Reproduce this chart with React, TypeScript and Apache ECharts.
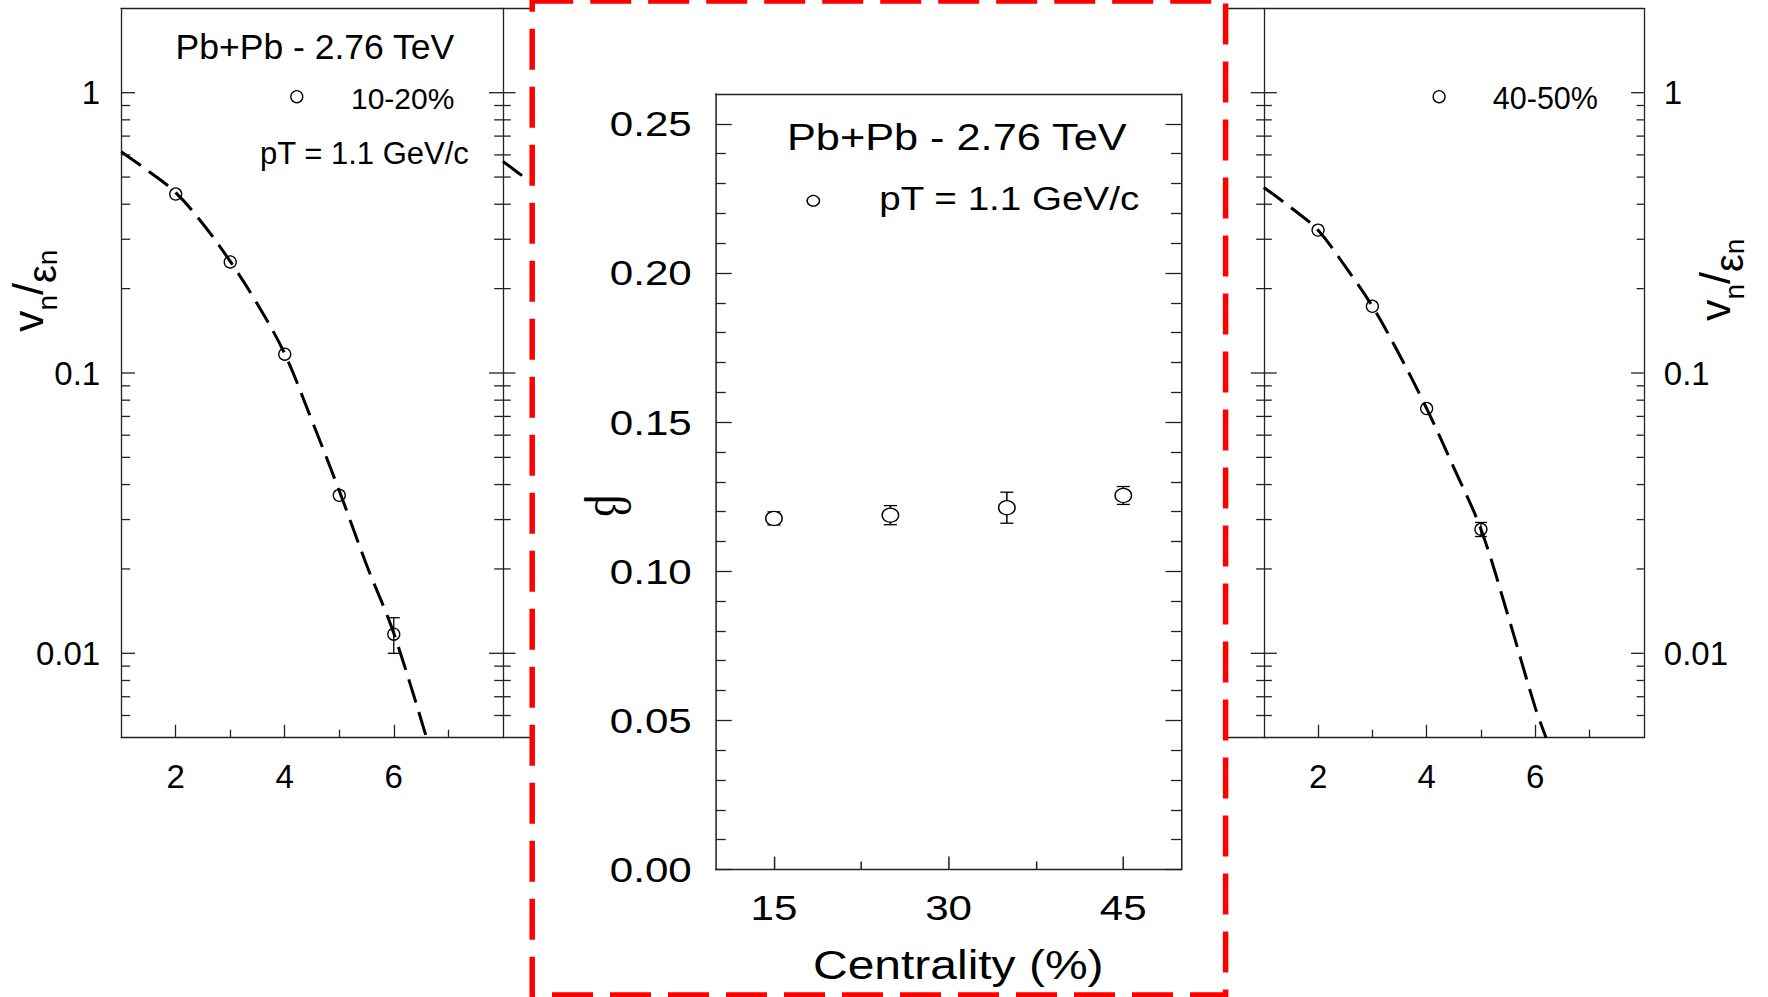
import React, { useEffect, useRef } from 'react';
import * as echarts from 'echarts';

// ---------------------------------------------------------------------------
// Data
// ---------------------------------------------------------------------------
// v_n / eps_n versus harmonic order n (pT = 1.1 GeV/c), Pb+Pb 2.76 TeV
const N_10_20 = [2, 3, 4, 5, 6];
const VN_10_20 = [0.435, 0.249, 0.1167, 0.0366, 0.0117];
const VN_10_20_ERR = [0, 0, 0, 0, 0.0017];

const N_40_50 = [2, 3, 4, 5];
const VN_40_50 = [0.3234, 0.173, 0.0747, 0.0277];
const VN_40_50_ERR = [0, 0, 0, 0.0016];

// dashed fit curves
const FIT_N_10_20 = [1, 1.5, 2, 2.5, 3, 3.5, 4, 4.5, 5, 5.5, 6, 6.6];
const FIT_10_20 = [0.616, 0.525, 0.44, 0.34, 0.25, 0.176, 0.117, 0.0675, 0.038, 0.0207, 0.0118, 0.005];
const FIT_N_40_50 = [1, 1.5, 2, 2.5, 3, 3.5, 4, 4.5, 5, 5.5, 6, 6.2];
const FIT_40_50 = [0.459, 0.389, 0.323, 0.24, 0.173, 0.116, 0.0747, 0.046, 0.0277, 0.0136, 0.0064, 0.005];
// neighbouring panel (only its left edge shows next to the frame)
const FIT_N_20_30 = [1, 1.52];
const FIT_20_30 = [0.569, 0.478];

// beta versus centrality
const CENTRALITY = [15, 25, 35, 45];
const BETA = [0.1177, 0.1188, 0.1213, 0.1254];
const BETA_ERR = [0.0022, 0.0032, 0.0052, 0.003];

// tick values
const N_LABELS = [2, 4, 6];
const N_MINOR = [3, 5, 7];
const LOG_MAJOR = [0.01, 0.1, 1];
const LOG_MINOR = [
  0.006, 0.007, 0.008, 0.009,
  0.02, 0.03, 0.04, 0.05, 0.06, 0.07, 0.08, 0.09,
  0.2, 0.3, 0.4, 0.5, 0.6, 0.7, 0.8, 0.9,
];
const CENT_LABELS = [15, 30, 45];
const CENT_MINOR = [22.5, 37.5];
const BETA_LABELS = [0, 0.05, 0.1, 0.15, 0.2, 0.25];
const BETA_MINOR = [
  0.01, 0.02, 0.03, 0.04, 0.06, 0.07, 0.08, 0.09, 0.11, 0.12,
  0.13, 0.14, 0.16, 0.17, 0.18, 0.19, 0.21, 0.22, 0.23, 0.24,
];

// ---------------------------------------------------------------------------
// Styling / layout
// ---------------------------------------------------------------------------
const FONT = '"Liberation Sans", Arial, sans-serif';
const SERIF = '"Liberation Serif", "DejaVu Serif", serif';
const INK = '#000';
const AXIS_LINE = { color: '#222', width: 1.3 };

const N_MIN = 1;
const N_MAX = 8;
const LOG_MIN = 0.005;
const LOG_MAX = 2;

const PANEL_TOP = 8.3;
const PANEL_H = 729.4;

// the beta panel is drawn in its own chart, stretched horizontally
const STRETCH = 1.17;
const BETA_X0 = 540;
const BETA_W = 580;

type TickLen = { lIn: number; lOut: number; rIn: number; rOut: number };

const isDecade = (v: number) => LOG_MAJOR.some((m) => Math.abs(m - v) < m * 1e-6);

const plainX = (gridIndex: number, min: number, max: number, position: string) => ({
  type: 'value',
  gridIndex,
  min,
  max,
  position,
  axisLine: { show: true, onZero: false, lineStyle: AXIS_LINE },
  axisTick: { show: false },
  axisLabel: { show: false },
  splitLine: { show: false },
});

const labelledX = (
  gridIndex: number,
  min: number,
  max: number,
  values: number[],
  length: number,
  fontSize: number,
  margin: number,
) => ({
  ...plainX(gridIndex, min, max, 'bottom'),
  axisTick: { show: true, inside: true, length, customValues: values, lineStyle: AXIS_LINE },
  axisLabel: { show: true, customValues: values, fontSize, margin, color: INK, fontFamily: FONT },
});

const tickOnlyX = (gridIndex: number, min: number, max: number, values: number[], length: number) => ({
  type: 'value',
  gridIndex,
  min,
  max,
  position: 'bottom',
  axisLine: { show: false, onZero: false },
  axisTick: { show: true, inside: true, length, customValues: values, lineStyle: AXIS_LINE },
  axisLabel: { show: false },
  splitLine: { show: false },
});

const logY = (gridIndex: number, position: string, showLine: boolean, labelMargin?: number) => ({
  type: 'log',
  logBase: 10,
  gridIndex,
  min: LOG_MIN,
  max: LOG_MAX,
  position,
  axisLine: { show: showLine, onZero: false, lineStyle: AXIS_LINE },
  axisTick: { show: false },
  minorTick: { show: false },
  splitLine: { show: false },
  minorSplitLine: { show: false },
  axisLabel:
    labelMargin === undefined
      ? { show: false }
      : {
          show: true,
          fontSize: 33,
          margin: labelMargin,
          color: INK,
          fontFamily: FONT,
          formatter: (v: number) => (isDecade(v) ? String(v) : ''),
        },
});

// y tick marks of a log panel, placed on both frame edges through the axis scale
const logTicks = (xAxisIndex: number, yAxisIndex: number, major: TickLen, minor: TickLen) => ({
  type: 'custom',
  xAxisIndex,
  yAxisIndex,
  silent: true,
  clip: false,
  z: 3,
  data: [...LOG_MAJOR.map((v) => [N_MIN, v, 1]), ...LOG_MINOR.map((v) => [N_MIN, v, 0])],
  encode: { x: 0, y: 1 },
  renderItem: (_p: any, api: any) => {
    const v = api.value(1);
    const t = api.value(2) === 1 ? major : minor;
    const l = api.coord([N_MIN, v]);
    const r = api.coord([N_MAX, v]);
    const style = { stroke: '#222', lineWidth: 1.3 };
    const children: any[] = [];
    if (t.lIn + t.lOut > 0) {
      children.push({ type: 'line', shape: { x1: l[0] - t.lOut, y1: l[1], x2: l[0] + t.lIn, y2: l[1] }, style });
    }
    if (t.rIn + t.rOut > 0) {
      children.push({ type: 'line', shape: { x1: r[0] - t.rIn, y1: r[1], x2: r[0] + t.rOut, y2: r[1] }, style });
    }
    return { type: 'group', children };
  },
});

const errorBars = (
  xAxisIndex: number,
  yAxisIndex: number,
  xs: number[],
  ys: number[],
  errs: number[],
  capHalf: number,
) => ({
  type: 'custom',
  xAxisIndex,
  yAxisIndex,
  silent: true,
  z: 3,
  data: xs.map((x, i) => [x, ys[i] - errs[i], ys[i] + errs[i]]).filter((_d, i) => errs[i] > 0),
  encode: { x: 0, y: [1, 2] },
  renderItem: (_p: any, api: any) => {
    const lo = api.coord([api.value(0), api.value(1)]);
    const hi = api.coord([api.value(0), api.value(2)]);
    const style = { stroke: INK, lineWidth: 1.3 };
    return {
      type: 'group',
      children: [
        { type: 'line', shape: { x1: hi[0], y1: hi[1], x2: lo[0], y2: lo[1] }, style },
        { type: 'line', shape: { x1: hi[0] - capHalf, y1: hi[1], x2: hi[0] + capHalf, y2: hi[1] }, style },
        { type: 'line', shape: { x1: lo[0] - capHalf, y1: lo[1], x2: lo[0] + capHalf, y2: lo[1] }, style },
      ],
    };
  },
});

const fitLine = (xAxisIndex: number, yAxisIndex: number, xs: number[], ys: number[]) => ({
  type: 'line',
  xAxisIndex,
  yAxisIndex,
  data: xs.map((x, i) => [x, ys[i]]),
  smooth: 0.35,
  symbol: 'none',
  showSymbol: false,
  silent: true,
  z: 2,
  lineStyle: { color: INK, width: 3, type: [24, 10] },
});

const openPoints = (xAxisIndex: number, yAxisIndex: number, xs: number[], ys: number[], size: number, fill: string) => ({
  type: 'scatter',
  xAxisIndex,
  yAxisIndex,
  data: xs.map((x, i) => [x, ys[i]]),
  symbol: 'circle',
  symbolSize: size,
  silent: true,
  z: 5,
  itemStyle: { color: fill, borderColor: INK, borderWidth: 1.3, opacity: 1 },
});

// rotated "v_n/ε_n" axis title
const vnTitle = (x: number, y: number) => ({
  type: 'text',
  x,
  y,
  rotation: Math.PI / 2,
  style: {
    text: '{a|v}{s|n}{a|/}{e|ε}{s|n}{h|\u2009}',
    align: 'left',
    verticalAlign: 'top',
    fill: INK,
    fontFamily: FONT,
    rich: {
      a: { fontSize: 43, lineHeight: 44, verticalAlign: 'top', fontFamily: FONT, fill: INK },
      s: { fontSize: 28, lineHeight: 28, verticalAlign: 'bottom', fontFamily: FONT, fill: INK },
      e: { fontSize: 40, lineHeight: 24, verticalAlign: 'bottom', fontFamily: FONT, fill: INK },
      h: { fontSize: 2, lineHeight: 55, fontFamily: FONT, fill: INK },
    },
  },
});

const label = (x: number, y: number, text: string, fontSize: number, align = 'left') => ({
  type: 'text',
  x,
  y,
  style: { text, fontSize, fontFamily: FONT, fill: INK, align, verticalAlign: 'middle' },
});

const legendCircle = (cx: number, cy: number, r: number) => ({
  type: 'circle',
  shape: { cx, cy, r },
  style: { fill: 'none', stroke: INK, lineWidth: 1.3 },
});

function vnOption(): any {
  const grid = (left: number, width: number) => ({
    left,
    width,
    top: PANEL_TOP,
    height: PANEL_H,
    containLabel: false,
    outerBoundsMode: 'none',
  });
  return {
    animation: false,
    backgroundColor: '#fff',
    grid: [grid(121.2, 381.6), grid(502.8, 28.5), grid(1228, 35.8), grid(1263.8, 380)],
    xAxis: [
      labelledX(0, N_MIN, N_MAX, N_LABELS, 13, 33, 22), // 0
      tickOnlyX(0, N_MIN, N_MAX, N_MINOR, 8), // 1
      plainX(0, N_MIN, N_MAX, 'top'), // 2
      labelledX(3, N_MIN, N_MAX, N_LABELS, 13, 33, 22), // 3
      tickOnlyX(3, N_MIN, N_MAX, N_MINOR, 8), // 4
      plainX(3, N_MIN, N_MAX, 'top'), // 5
      plainX(1, 1, 1.52, 'bottom'), // 6
      plainX(1, 1, 1.52, 'top'), // 7
      plainX(2, 7.3, 8, 'bottom'), // 8
      plainX(2, 7.3, 8, 'top'), // 9
    ],
    yAxis: [
      logY(0, 'left', true, 21), // 0
      logY(0, 'right', true), // 1
      logY(1, 'left', false), // 2
      {
        type: 'value',
        gridIndex: 2,
        min: 0,
        max: 1,
        position: 'right',
        axisLine: { show: false },
        axisTick: { show: false },
        axisLabel: { show: false },
        splitLine: { show: false },
      }, // 3
      logY(3, 'left', true), // 4
      logY(3, 'right', true, 20), // 5
    ],
    series: [
      fitLine(0, 0, FIT_N_10_20, FIT_10_20),
      errorBars(0, 0, N_10_20, VN_10_20, VN_10_20_ERR, 6),
      openPoints(0, 0, N_10_20, VN_10_20, 12, 'rgba(0,0,0,0)'),
      logTicks(0, 0, { lIn: 13.8, lOut: 0, rIn: 13.8, rOut: 12.7 }, { lIn: 9, lOut: 0, rIn: 8.6, rOut: 7.9 }),
      fitLine(6, 2, FIT_N_20_30, FIT_20_30),
      fitLine(3, 5, FIT_N_40_50, FIT_40_50),
      errorBars(3, 5, N_40_50, VN_40_50, VN_40_50_ERR, 6),
      openPoints(3, 5, N_40_50, VN_40_50, 12, 'rgba(0,0,0,0)'),
      logTicks(3, 5, { lIn: 13, lOut: 13, rIn: 12.7, rOut: 0 }, { lIn: 8, lOut: 7.6, rIn: 7.2, rOut: 0 }),
    ],
    graphic: [
      label(175.6, 46.7, 'Pb+Pb - 2.76 TeV', 35.5),
      legendCircle(296.8, 96.7, 6),
      label(351, 98.3, '10-20%', 30),
      label(260, 153, 'pT = 1.1 GeV/c', 31),
      legendCircle(1439.1, 96.7, 6),
      label(1492.8, 97.8, '40-50%', 30.5),
      vnTitle(6.5, 332),
      vnTitle(1693.5, 321),
      {
        type: 'rect',
        z: 100,
        shape: { x: 532.2, y: 1, width: 693.4, height: 994 },
        style: { fill: 'none', stroke: '#ff0000', lineWidth: 5.5, lineDash: [41, 17] },
      },
    ],
  };
}

function betaOption(): any {
  const xMin = 10;
  const xMax = 50;
  const yAx = (position: string, values: number[], length: number, showLine: boolean, labels: boolean) => ({
    type: 'value',
    gridIndex: 0,
    min: 0,
    max: 0.26,
    position,
    axisLine: { show: showLine, onZero: false, lineStyle: AXIS_LINE },
    axisTick: { show: true, inside: true, length, customValues: values, lineStyle: AXIS_LINE },
    axisLabel: labels
      ? {
          show: true,
          customValues: values,
          fontSize: 36,
          margin: 20.5,
          color: INK,
          fontFamily: FONT,
          formatter: (v: number) => v.toFixed(2),
        }
      : { show: false },
    splitLine: { show: false },
  });
  return {
    animation: false,
    backgroundColor: 'transparent',
    grid: [{ left: 150.2, top: 94, width: 398.1, height: 775.5, containLabel: false, outerBoundsMode: 'none' }],
    xAxis: [
      labelledX(0, xMin, xMax, CENT_LABELS, 13, 36, 20),
      tickOnlyX(0, xMin, xMax, CENT_MINOR, 8),
      plainX(0, xMin, xMax, 'top'),
    ],
    yAxis: [
      yAx('left', BETA_LABELS, 13.7, true, true),
      yAx('left', BETA_MINOR, 8.5, false, false),
      yAx('right', BETA_LABELS, 13.7, true, false),
      yAx('right', BETA_MINOR, 9, false, false),
    ],
    series: [
      errorBars(0, 0, CENTRALITY, BETA, BETA_ERR, 5.6),
      openPoints(0, 0, CENTRALITY, BETA, 14, '#fff'),
    ],
    graphic: [
      label(356.2, 137.3, 'Pb+Pb - 2.76 TeV', 37, 'center'),
      legendCircle(233.6, 200.8, 5.3),
      label(290, 199, 'pT = 1.1 GeV/c', 33),
      {
        type: 'text',
        x: 62.4,
        y: 506,
        rotation: -Math.PI / 2,
        style: { text: 'β', fontSize: 44, fontFamily: SERIF, fill: INK, align: 'center', verticalAlign: 'middle' },
      },
      label(357.5, 964.7, 'Centrality (%)', 41, 'center'),
    ],
  };
}

export default function App() {
  const vnRef = useRef<HTMLDivElement>(null);
  const betaRef = useRef<HTMLDivElement>(null);

  useEffect(() => {
    const vnChart = echarts.init(vnRef.current as HTMLDivElement, undefined, { renderer: 'svg' });
    const betaChart = echarts.init(betaRef.current as HTMLDivElement, undefined, { renderer: 'svg' });
    vnChart.setOption(vnOption());
    betaChart.setOption(betaOption());
    return () => {
      vnChart.dispose();
      betaChart.dispose();
    };
  }, []);

  return (
    <div
      style={{
        position: 'absolute',
        left: 0,
        top: 0,
        width: 1768,
        height: 997,
        background: '#fff',
        overflow: 'hidden',
      }}
    >
      <div ref={vnRef} style={{ position: 'absolute', left: 0, top: 0, width: 1768, height: 997 }} />
      <div
        ref={betaRef}
        style={{
          position: 'absolute',
          left: BETA_X0,
          top: 0,
          width: BETA_W,
          height: 997,
          transform: `scaleX(${STRETCH})`,
          transformOrigin: '0 0',
        }}
      />
    </div>
  );
}
